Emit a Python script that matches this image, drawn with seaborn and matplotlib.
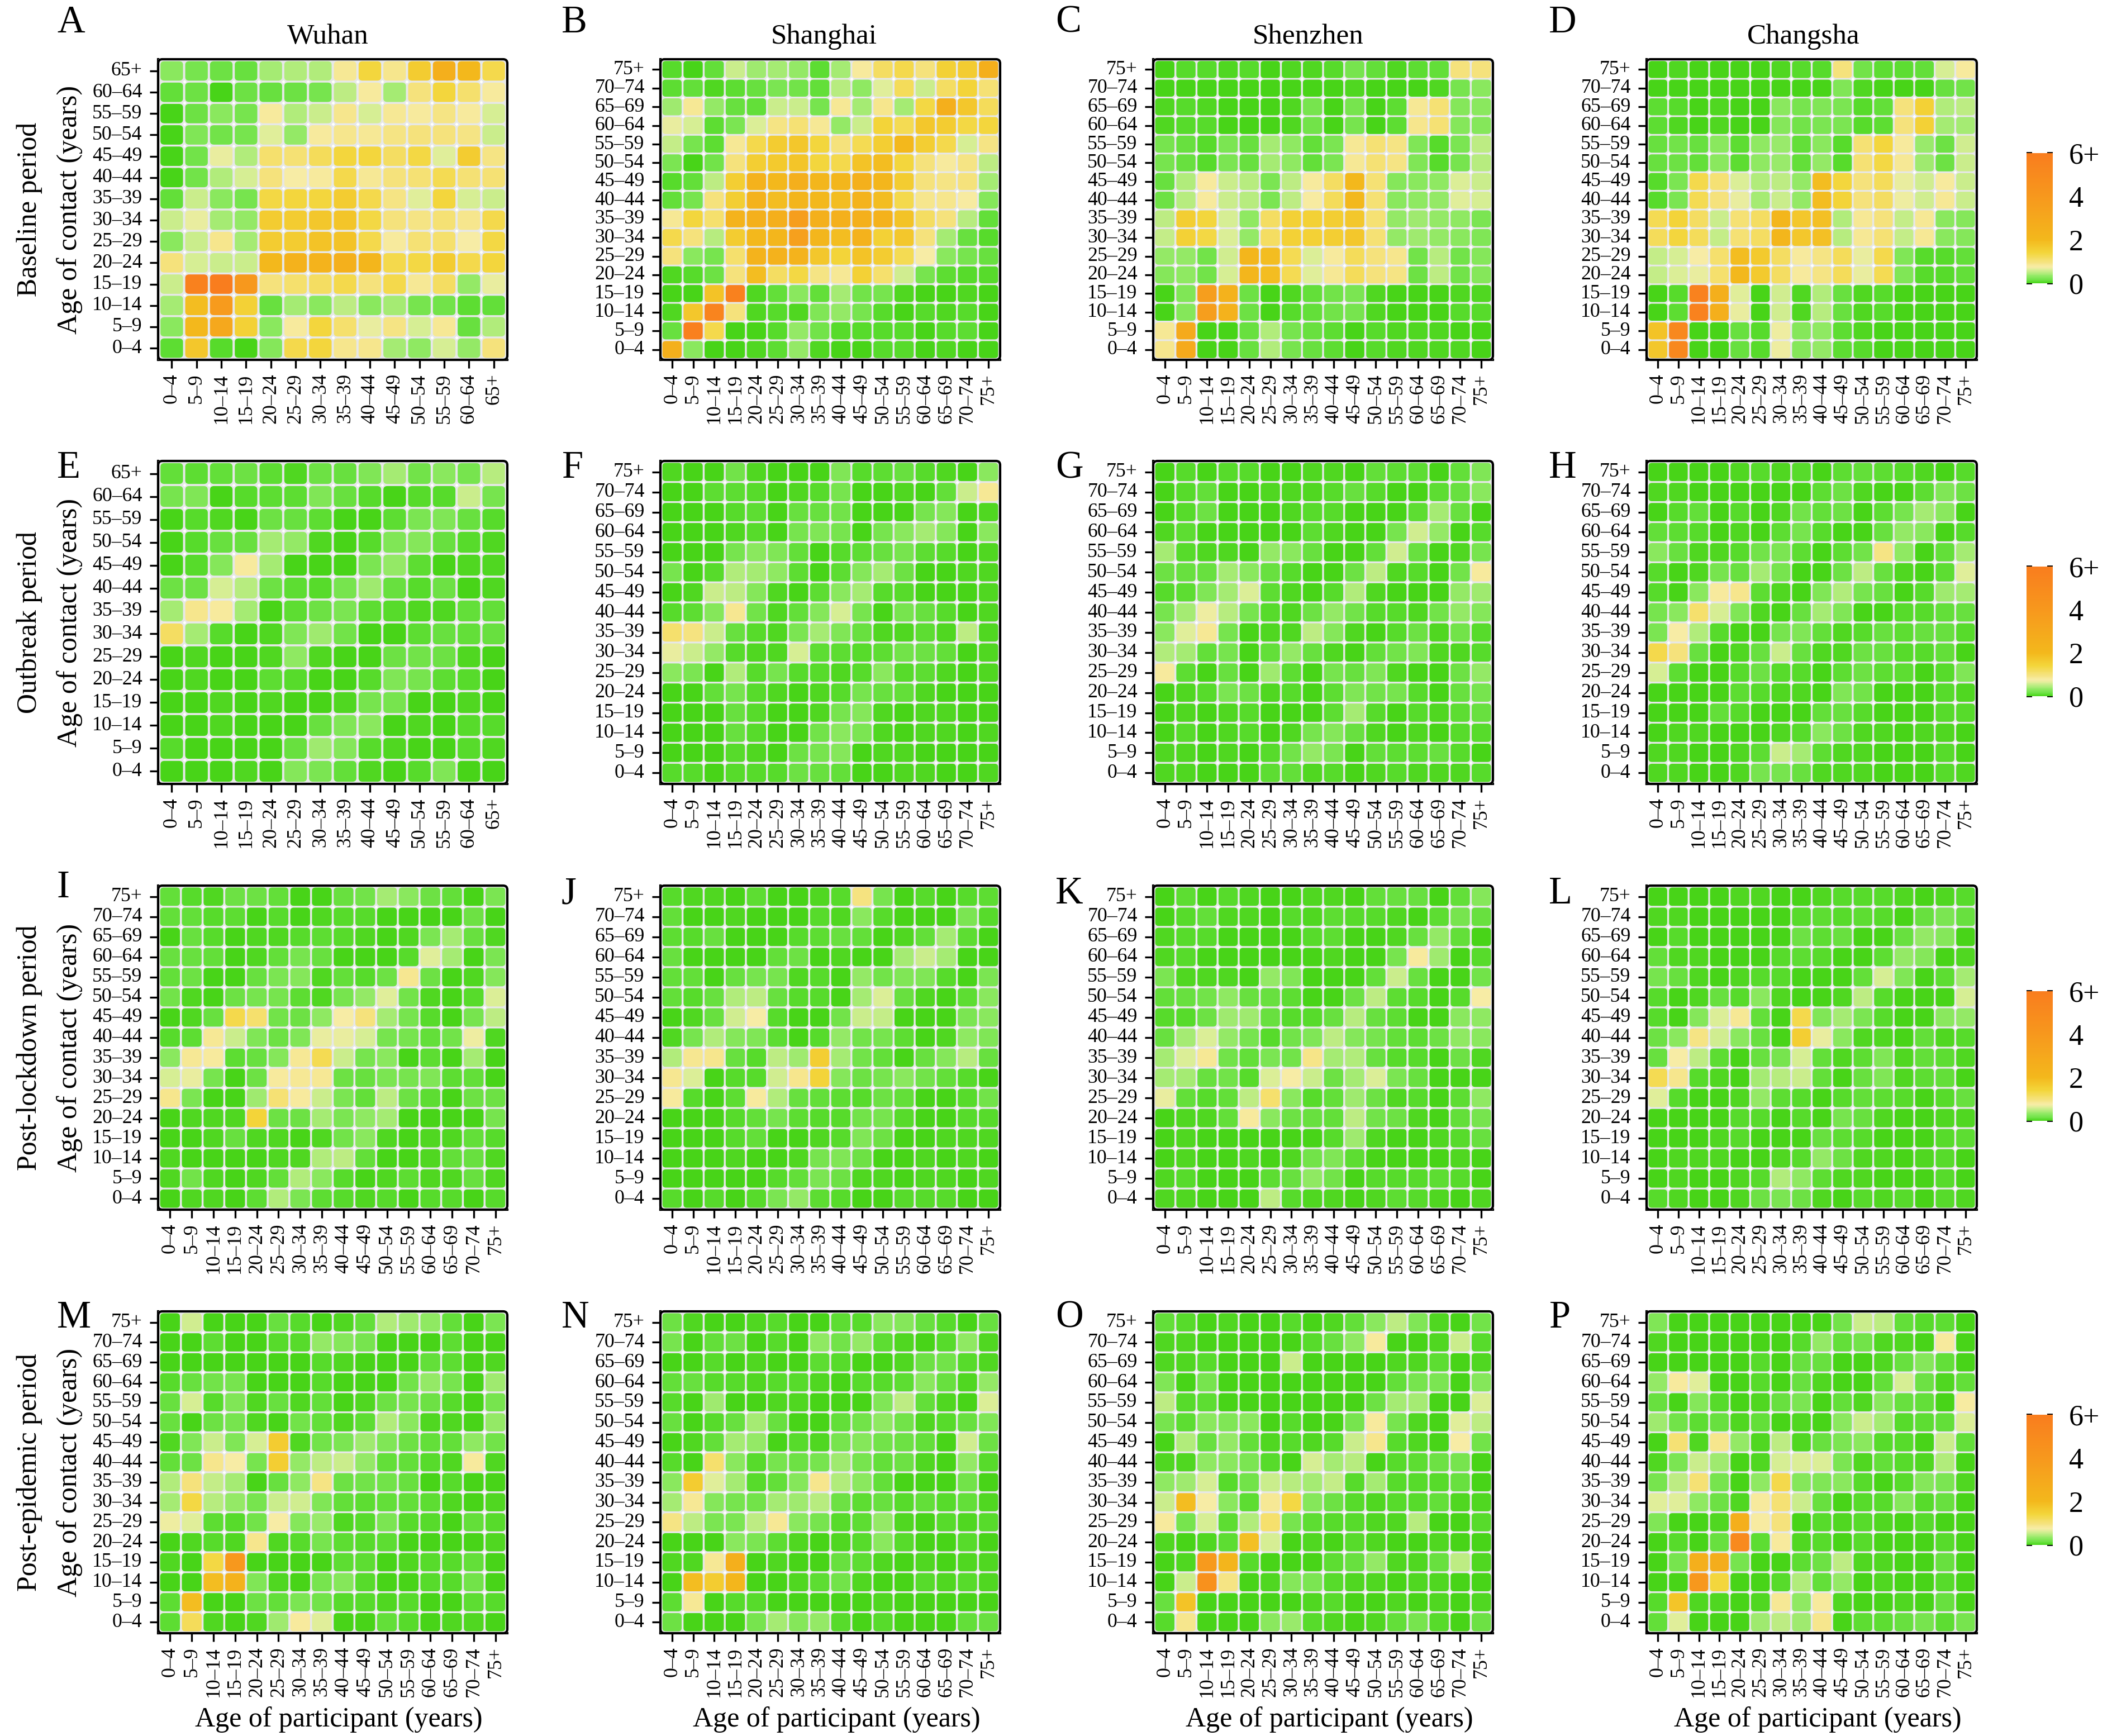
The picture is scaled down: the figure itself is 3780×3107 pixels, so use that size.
#!/usr/bin/env python
# Contact matrices by city and period, 4x4 grid of heatmaps
import matplotlib
matplotlib.use("Agg")
import matplotlib.pyplot as plt
import numpy as np
import pandas as pd
import seaborn as sns
from matplotlib.colors import LinearSegmentedColormap
from matplotlib.patches import FancyBboxPatch, PathPatch
from matplotlib.path import Path

AGES_14 = ["0–4", "5–9", "10–14", "15–19", "20–24", "25–29", "30–34", "35–39",
           "40–44", "45–49", "50–54", "55–59", "60–64", "65+"]
AGES_16 = AGES_14[:-1] + ["65–69", "70–74", "75+"]

cities = ["Wuhan", "Shanghai", "Shenzhen", "Changsha"]
periods = ["Baseline period", "Outbreak period", "Post-lockdown period", "Post-epidemic period"]
letters = list("ABCDEFGHIJKLMNOP")

# each matrix: top row is the oldest contact age, left column is the youngest participant
A = [[.3,.2,.15,.12,.4,.45,.45,.85,1.4,.9,1.6,2.6,2.0,1.3],
     [.1,.15,.0,.15,.12,.15,.2,.5,.8,.4,1.0,1.4,1.1,.8],
     [.0,.15,.3,.2,.8,.45,.55,.9,.6,.85,.8,.95,.8,.6],
     [.0,.25,.18,.2,.65,.35,.8,.9,.85,.95,1.0,1.0,.95,.55],
     [.0,.18,.7,.45,1.1,1.05,1.2,1.4,1.4,1.15,1.35,.65,1.6,.95],
     [.0,.18,.45,.6,1.0,.75,.8,1.3,.85,1.0,1.05,1.25,1.05,1.05],
     [.1,.55,.3,.2,1.35,1.4,1.4,1.6,1.3,.95,.65,1.4,.6,.55],
     [.55,.7,.4,.35,1.6,1.6,1.7,1.75,1.35,1.0,.95,1.05,.9,1.3],
     [.3,.55,.9,.4,1.6,1.6,1.8,1.8,1.3,.8,1.05,1.1,.75,1.35],
     [1.0,.6,.55,.55,2.0,2.4,2.3,2.5,2.1,1.3,1.35,1.6,1.3,1.4],
     [.55,5.7,6,4.0,1.0,1.1,1.15,1.3,1.0,1.3,.85,1.15,.35,.7],
     [.4,1.9,3.8,1.5,.12,.4,.3,.5,.3,.4,.2,.18,.08,.1],
     [.3,2.0,3.0,1.5,.3,.8,1.4,1.1,.7,.95,.6,.85,.12,.45],
     [.08,1.7,.05,.0,.28,1.3,1.4,.9,.9,.4,.32,.6,.33,1.0]]

B = [[.05,.02,.1,.55,.38,.42,.35,.08,.42,.8,1.15,1.3,1.0,1.5,1.6,2.6],
     [.08,.1,.03,.08,.12,.22,.18,.1,.48,.32,.65,1.2,.55,1.15,1.45,1.05],
     [.38,.85,.35,.12,.1,.55,.55,.2,.85,.42,.9,.42,1.35,2.6,1.7,1.2],
     [.7,.6,.08,.22,.62,.95,1.05,.85,.35,.55,1.45,1.25,1.7,1.6,1.35,1.4],
     [.52,.2,.08,.85,1.3,1.6,1.7,1.4,1.0,1.25,1.55,2.0,1.55,1.3,.6,.95],
     [.22,.0,.18,1.0,1.55,1.65,1.75,1.4,1.3,1.8,1.9,1.4,1.0,.8,.95,.5],
     [.06,.1,.5,1.55,2.4,2.0,2.6,2.1,2.1,2.5,2.1,1.6,1.0,.95,1.0,.42],
     [.1,.2,1.0,1.55,2.4,1.9,2.2,2.0,1.9,2.3,1.9,1.3,.9,.9,.78,.28],
     [.85,1.4,1.1,2.3,2.5,2.6,3.6,2.5,2.5,2.5,2.4,1.8,1.15,1.0,.48,.1],
     [1.3,1.0,.48,1.6,2.0,2.1,3.5,2.1,1.9,2.4,1.5,1.7,1.0,.42,.12,.06],
     [1.0,.3,.2,1.1,2.3,2.4,2.3,1.7,1.45,1.8,1.6,1.25,.75,.3,.2,.13],
     [.04,.07,.16,1.0,1.9,1.15,1.35,.95,.85,1.5,1.1,.58,.2,.08,.05,.07],
     [.02,.02,1.8,5.7,.04,.1,.3,.1,.42,.18,.2,.03,.01,.01,.04,.01],
     [.03,1.7,5.5,1.0,.04,.05,.03,.25,.35,.2,.07,.02,.05,.03,.05,.02],
     [.14,5.8,1.3,.01,.0,.05,.35,.18,.05,.05,.05,.05,.02,.06,.08,.01],
     [2.5,.3,.0,.0,.04,.08,.35,.04,.01,.01,.05,.06,.01,.04,.0,.01]]

C = [[.0,.05,.05,.03,.05,.0,.03,.04,.06,.2,.1,.03,.08,.1,1.0,1.0],
     [.0,.01,.01,.01,.01,.0,.01,.0,.01,.03,.02,.0,.0,.03,.2,.3],
     [.04,.05,.04,.0,.02,.0,.04,.2,.02,.2,.02,.08,.85,1.05,.28,.3],
     [.03,.06,.05,.0,.02,.0,.04,.18,.02,.2,.01,.08,.9,1.05,.28,.27],
     [.2,.12,.06,.22,.12,.4,.32,.1,.22,.85,1.05,.95,.25,.07,.22,.5],
     [.2,.12,.06,.22,.12,.42,.32,.1,.22,.85,1.05,.95,.25,.06,.2,.48],
     [.13,.45,.8,.55,.48,.22,.5,.8,1.15,2.0,1.05,.28,.3,.32,.62,.55],
     [.15,.48,.8,.55,.48,.22,.5,.78,1.2,2.0,1.05,.3,.32,.35,.65,.6],
     [.5,1.55,1.4,.6,.32,1.15,1.5,1.5,1.55,1.7,1.05,.35,.38,.35,.32,.22],
     [.52,1.5,1.35,.62,.35,1.15,1.5,1.5,1.55,1.7,1.05,.33,.38,.35,.3,.24],
     [.33,.33,.17,.58,2.1,1.9,1.25,.62,.82,1.2,1.0,.9,.17,.48,.17,.28],
     [.28,.32,.17,.6,2.1,1.9,1.25,.65,.85,1.2,1.0,.95,.16,.5,.18,.27],
     [.0,.25,3.6,2.4,.16,.02,.04,.11,.18,.22,.03,.0,.0,.0,.04,.03],
     [.0,.28,3.6,2.4,.16,.02,.05,.11,.18,.2,.04,.0,.02,.0,.05,.06],
     [.85,2.9,.0,.02,.13,.45,.2,.12,.08,.0,.05,.04,.03,.03,.02,.0],
     [.9,2.9,.0,.01,.13,.45,.2,.12,.08,.0,.05,.04,.03,.04,.03,.02]]

D = [[.02,.03,.01,.01,.02,.01,.03,.06,.06,1.0,.17,.08,.08,.1,.6,.8],
     [.0,.01,.0,.01,.01,.0,.0,.01,.01,.25,.03,.02,.0,.01,.12,.17],
     [.09,.05,.0,.04,.01,.01,.3,.2,.25,.22,.06,.1,1.0,1.5,.45,.5],
     [.08,.04,.0,.03,.0,.01,.28,.18,.23,.22,.05,.09,1.0,1.5,.4,.42],
     [.13,.17,.12,.3,.08,.32,.37,.1,.3,.06,1.05,1.4,.8,.37,.15,.58],
     [.14,.16,.1,.3,.08,.32,.37,.1,.33,.06,1.05,1.35,.85,.38,.15,.55],
     [.07,.22,1.3,1.05,.62,.45,.5,.33,1.9,1.4,1.0,1.2,.68,.58,.8,.55],
     [.07,.22,1.25,1.0,.68,.42,.55,.33,1.9,1.45,1.0,1.15,.72,.58,.85,.55],
     [1.25,1.45,1.15,.55,1.05,1.15,2.1,1.7,1.85,.45,.85,1.0,.52,.85,.3,.27],
     [1.2,1.4,1.2,.52,1.05,1.15,2.1,1.7,1.85,.48,.85,1.05,.52,.85,.3,.27],
     [.52,.6,.75,1.1,1.9,1.65,1.15,.8,.95,1.2,.68,1.3,.25,.05,.05,.1],
     [.52,.62,.68,1.1,2.0,1.65,1.15,.8,.95,1.2,.7,1.25,.25,.06,.05,.1],
     [.0,.07,5.6,2.6,.65,.0,.58,.03,.45,.12,.04,.05,.0,.01,.02,.01],
     [.0,.08,5.6,2.6,.7,.0,.58,.03,.48,.12,.04,.05,.0,.02,.02,.01],
     [1.8,5.2,.02,.01,.12,.06,.72,.28,.32,.08,.04,.01,.01,.0,.02,.01],
     [1.7,5.2,.02,.01,.12,.06,.72,.28,.33,.08,.05,.01,.01,.0,.02,.02]]

E = [[.1,.08,.1,.16,.08,.04,.15,.12,.25,.4,.18,.3,.2,.48],
     [.2,.25,.02,.05,.08,.08,.25,.12,.06,.02,.06,.07,.55,.2],
     [.0,.05,.03,.0,.15,.14,.08,.02,.01,.08,.22,.25,.12,.05],
     [.0,.05,.12,.14,.42,.35,.04,.01,.06,.25,.28,.12,.05,.03],
     [.01,.07,.28,.8,.4,.02,.0,.02,.22,.35,.08,.01,.04,.03],
     [.15,.15,.6,.48,.15,.08,.07,.2,.38,.14,.05,.15,.01,.04],
     [.4,.9,.8,.4,.01,.08,.15,.22,.08,.06,.03,.03,.1,.1],
     [1.15,.42,.05,.0,.03,.25,.38,.18,.02,.0,.08,.12,.1,.12],
     [.0,.04,.01,.0,.03,.32,.04,.01,.01,.15,.18,.15,.03,.0],
     [.0,.04,.02,.0,.08,.06,.01,.01,.05,.25,.2,.08,.05,.0],
     [.0,.01,.04,.01,.03,.01,.0,.03,.2,.2,.02,.01,.04,.01],
     [.0,.02,.03,.02,.01,.02,.12,.25,.3,.02,.03,.02,.06,.06],
     [.07,.01,.02,.01,.01,.13,.38,.28,.05,.04,.01,.01,.07,.04],
     [.02,.02,.02,.03,.02,.27,.22,.1,.04,.02,.05,.25,.02,.01]]

F = [[.03,.02,.0,.18,.03,.01,.0,.01,.25,.05,.09,.12,.05,.03,.02,.3],
     [.01,.01,.08,.08,.06,.02,.03,.06,.2,.02,.02,.03,.0,.1,.55,.85],
     [.01,.0,.0,.06,.08,.0,.12,.12,.18,.02,.0,.01,.2,.28,.01,.03],
     [.01,.0,.0,.04,.05,.0,.2,.25,.2,.0,.2,.3,.4,.28,.01,.3],
     [.02,.0,.0,.2,.3,.25,.1,.0,.06,.08,.14,.2,.08,.06,.01,.03],
     [.2,.0,.07,.45,.4,.32,.08,.0,.08,.28,.42,.15,.02,.0,.04,.03],
     [.01,.04,.55,.5,.28,.03,.01,.08,.3,.4,.07,.07,.01,.0,.02,.03],
     [.06,.08,.28,.88,.18,.04,.1,.28,.6,.2,.0,.2,.13,.07,.02,.03],
     [1.1,.98,.55,.13,.05,.03,.22,.42,.25,.12,.04,.03,.08,.03,.5,.03],
     [.68,.55,.35,.05,.03,.04,.6,.08,.08,.05,.08,.18,.15,.1,.01,.03],
     [.3,.22,.02,.45,.05,.2,.05,.05,.03,.05,.3,.06,.08,.03,.02,.03],
     [.01,.01,.1,.2,.06,.03,.01,.03,.05,.2,.12,.1,.03,.0,.01,.02],
     [.01,.01,.01,.12,.05,.01,.0,.03,.2,.28,.03,.02,.03,.03,.01,.02],
     [.01,.01,.01,.14,.05,.01,.02,.18,.3,.22,.03,.02,.03,.03,.01,.03],
     [.01,.01,.01,.05,.04,.01,.15,.2,.28,.0,.03,.04,.02,.02,.01,.02],
     [.07,.07,.01,.05,.05,.05,.15,.12,.1,.0,.01,.04,.03,.02,.0,.03]]

G = [[.02,.07,.0,.05,.05,.01,.01,.03,.03,.01,.1,.08,.08,.02,.1,.25],
     [.02,.07,.1,.0,.0,.03,.04,.03,.06,.12,.06,.02,.0,.08,.12,.3],
     [.02,.06,.15,.0,.01,.02,.04,.07,.06,.0,.02,.0,.08,.4,.12,.0],
     [.04,.09,.02,.0,.01,.01,.02,.08,.04,.0,.02,.2,.58,.35,.0,.06],
     [.42,.05,.03,.04,.02,.35,.3,.12,.0,.0,.1,.58,.12,.01,.03,.2],
     [.15,.12,.12,.4,.3,.13,.07,.01,.0,.15,.5,.04,.06,.0,.18,.8],
     [.05,.09,.25,.42,.62,.08,.04,.0,.07,.45,.04,.02,.01,.0,.35,.38],
     [.2,.4,.72,.48,.2,.06,.04,.15,.35,.17,.05,.06,.03,.18,.33,.28],
     [.3,.65,.85,.2,.0,.03,.04,.5,.28,.03,.02,.06,.15,.03,.18,.05],
     [.45,.42,.1,.2,.0,.1,.35,.12,.03,.02,.1,.18,.25,.03,.03,.06],
     [.8,.08,.02,.12,.02,.38,.09,.0,.2,.13,.25,.04,.01,.0,.15,.35],
     [.01,.03,.05,.22,.15,.04,.06,.0,.08,.25,.18,.2,.05,.0,.12,.2],
     [.01,.03,.01,.04,.05,.01,.0,.01,.09,.4,.05,.01,.05,.03,.09,.13],
     [.02,.05,.01,.03,.05,.01,.03,.2,.28,.12,.03,.02,.04,.01,.07,.06],
     [.03,.03,.01,.03,.0,.07,.18,.33,.23,.0,.1,.08,.08,.12,.07,.01],
     [.04,.04,.01,.01,.0,.08,.1,.03,.06,.0,.03,.05,.03,.03,.04,.05]]

H = [[.02,.01,.02,.02,.04,.07,.03,.05,.02,.08,.1,.08,.05,.03,.01,.07],
     [.03,.03,.0,.0,.0,.0,.01,.02,.08,.15,.04,.0,.0,.08,.25,.15],
     [.01,.07,.1,.01,.05,.0,.04,.18,.1,.16,.0,.08,.2,.4,.3,.02],
     [.1,.08,.07,.01,.03,.01,.08,.2,.05,.02,.0,.14,.35,.3,.01,.05],
     [.3,.12,.03,.03,.07,.18,.22,.09,.0,.08,.18,.95,.32,.0,.1,.4],
     [.05,.0,.04,.2,.13,.42,.2,.0,.0,.15,.5,.12,.03,.0,.08,.65],
     [.05,.01,.3,.8,.9,.08,.04,.0,.25,.45,.2,.12,.0,.05,.38,.42],
     [.2,.3,1.1,.6,.25,.03,.01,.13,.4,.25,.0,.0,.05,.06,.1,.12],
     [.22,.75,.45,.05,.0,.02,.2,.25,.1,.04,.05,.13,.08,.12,.12,.06],
     [1.3,1.0,.13,.02,.03,.13,.55,.14,.03,.03,.15,.12,.05,.07,.1,.02],
     [.6,.08,.0,.01,.07,.15,.05,.06,.0,.08,.15,.08,.08,.0,.06,.25],
     [.01,.02,.0,.02,.09,.07,.04,.04,.0,.25,.18,.02,.02,.0,.07,.03],
     [.0,.0,.0,.1,.06,.01,.01,.01,.1,.12,.05,.02,.0,.02,.05,.07],
     [.0,.03,.04,.02,.02,.01,.04,.05,.3,.15,.04,.03,.02,.03,.04,.0],
     [.03,.03,.01,.0,.03,.09,.55,.4,.08,.04,.03,.0,.02,.0,.05,.02],
     [.03,.03,.02,.01,.03,.2,.2,.14,.03,.03,.04,.02,.02,.0,.05,.03]]

I = [[.1,.06,.04,.15,.15,.1,.02,.02,.13,.18,.4,.3,.15,.1,.0,.22],
     [.1,.1,.06,.08,.0,.05,.0,.03,.06,.05,.0,.0,.0,.0,.15,.0],
     [.0,.12,.06,.02,.03,.03,.05,.08,.07,.03,.01,.04,.22,.4,.12,.04],
     [.12,.12,.1,.02,.04,.1,.2,.12,.0,.0,.0,.05,.65,.42,.0,.22],
     [.1,.15,.0,.02,.12,.22,.28,.03,.1,.05,.15,.88,.15,.01,.03,.28],
     [.18,.04,.02,.16,.2,.2,.08,.04,.2,.35,.65,.18,.03,.0,.05,.62],
     [.0,.03,.12,1.3,1.1,.17,.15,.32,.75,1.0,.4,.2,.05,.02,.2,.5],
     [.07,.08,.85,.55,.25,.15,.25,.7,.7,.6,.2,.2,.1,.18,.72,.03],
     [.3,.85,.82,.08,.14,.28,.85,1.25,.55,.2,.3,.0,.08,.0,.42,.02],
     [.6,.7,.2,.0,.15,.82,.85,.85,.15,.12,.22,.2,.25,.08,.1,.02],
     [.9,.22,.0,.0,.38,1.05,.8,.55,.22,.1,.5,.15,.08,.02,.15,.15],
     [.02,.03,.03,.03,1.45,.15,.15,.42,.22,.32,.42,.0,.0,.0,.02,.2],
     [.01,.02,.03,.12,.03,.03,.0,.03,.18,.3,.03,.01,.03,.04,.1,.06],
     [.03,.02,.02,.01,.01,.03,.03,.45,.5,.1,.02,.0,.03,.1,.13,.03],
     [.03,.17,.03,.02,.03,.1,.45,.3,.05,.02,.04,.08,.03,.03,.12,.03],
     [.02,.04,.04,.02,.08,.45,.22,.09,.05,.03,.06,.02,.06,.05,.02,.05]]

J = [[.05,.03,.04,.02,.08,.02,.0,.03,.05,.98,.2,.02,.05,.0,.05,.08],
     [.1,.02,.01,.04,.01,.0,.0,.05,.04,.3,.05,.0,.01,.01,.22,.05],
     [.09,.07,.12,.01,.0,.02,.07,.08,.12,.1,.0,.03,.1,.4,.08,.0],
     [.12,.02,.01,.02,.0,.1,.15,.02,.03,.0,.0,.42,.55,.42,.01,.01],
     [.1,.1,.01,.12,.2,.2,.03,.05,.01,.35,.18,.25,.25,.07,.0,.22],
     [.1,.05,.14,.45,.5,.12,.05,.05,.02,.42,.62,.13,.03,.0,.08,.3],
     [.0,.03,.13,.58,.75,.06,.01,.0,.18,.55,.52,.0,.0,.02,.22,.3],
     [.03,.2,.45,.28,.25,.09,.02,.07,.35,.18,.2,.08,.0,.03,.32,.25],
     [.45,.88,.9,.12,.07,.5,.38,1.55,.42,.18,.1,.01,.12,.28,.48,.14],
     [.88,.62,.02,.06,.07,.58,.9,1.45,.28,.15,.2,.3,.18,.1,.05,.0],
     [.82,.07,.02,.08,.82,.45,.12,.1,.09,.05,.15,.1,.0,.0,.05,.18],
     [.02,.01,.01,.07,.1,.2,.08,.07,.05,.18,.2,.07,.01,.0,.05,.05],
     [.01,.01,.01,.06,.1,.02,.0,.04,.06,.25,.15,.02,.01,.04,.03,.04],
     [.01,.01,.01,.04,.02,.02,.04,.2,.25,.15,.01,.01,.03,.02,.04,.02],
     [.01,.01,.02,.02,.02,.06,.1,.22,.15,.04,.03,.01,.04,.04,.02,.03],
     [.05,.02,.05,.02,.06,.22,.35,.08,.07,.0,.02,.05,.05,.07,.02,.02]]

K = [[.02,.08,.0,.05,.03,.01,.0,.03,.03,.0,.1,.12,.13,.02,.1,.28],
     [.02,.07,.1,.03,.03,.01,.05,.03,.08,.07,.07,.03,.0,.08,.2,.12],
     [.03,.05,.05,.01,.01,.02,.02,.06,.08,.0,.01,.04,.12,.35,.1,.0],
     [.04,.06,.02,.0,.01,.01,.01,.02,.03,.0,.02,.2,.8,.38,.0,.07],
     [.22,.04,.03,.03,.0,.35,.25,.01,.0,.0,.1,.55,.13,.01,.02,.17],
     [.1,.14,.18,.32,.13,.12,.09,.02,.01,.15,.5,.08,.05,.0,.05,.75],
     [.06,.07,.15,.38,.38,.12,.05,.05,.12,.48,.12,.08,.02,.0,.3,.32],
     [.12,.42,.62,.35,.2,.05,.18,.25,.5,.28,.2,.1,.08,.15,.32,.3],
     [.42,.62,.85,.17,.1,.22,.18,.92,.4,.45,.12,.05,.07,.02,.15,.04],
     [.42,.42,.13,.17,.05,.62,.75,.55,.15,.4,.62,.22,.12,.0,.02,.02],
     [.7,.1,.07,.1,.5,1.1,.3,.07,.1,.38,.15,.03,.06,.0,.08,.32],
     [.01,.03,.03,.1,.8,.3,.15,.12,.1,.5,.18,.15,.04,.0,.1,.2],
     [.02,.03,.01,.02,.01,.01,.0,.0,.07,.38,.03,.01,.02,.03,.07,.12],
     [.02,.04,.01,.02,.03,.01,.04,.18,.25,.08,.01,.01,.02,.01,.04,.02],
     [.03,.06,.0,.02,.01,.08,.14,.32,.18,.0,.07,.07,.05,.08,.05,.01],
     [.04,.04,.01,.01,.01,.5,.05,.03,.04,.0,.03,.08,.05,.04,.01,.03]]

L = [[.02,.0,.01,.01,.03,.03,.0,.01,.03,.06,.07,.07,.04,.0,.04,.06],
     [.03,.03,.0,.0,.0,.01,.02,.06,.08,.05,.08,.05,.0,.14,.22,.12],
     [.01,.06,.01,.0,.02,.0,.02,.16,.08,.14,.0,.02,.14,.35,.28,.0],
     [.1,.04,.04,.01,.02,.01,.05,.08,.05,.02,.0,.08,.35,.28,.02,.04],
     [.2,.12,.03,.02,.03,.07,.05,.01,.0,.02,.1,.6,.25,.0,.08,.4],
     [.06,.0,.03,.12,.06,.3,.03,.0,.01,.03,.5,.07,.02,.0,.02,.6],
     [.06,.01,.28,.62,.85,.1,.0,1.3,.25,.4,.22,.07,.0,.02,.3,.33],
     [.15,.3,.95,.58,.3,.12,.02,1.55,.7,.3,.04,.04,.01,.1,.04,.05],
     [.13,.75,.5,.08,.0,.13,.2,.6,.1,.03,.08,.25,.03,.1,.08,.03],
     [1.25,.9,.06,.03,.01,.42,.48,.55,.1,.0,.12,.25,.04,.08,.1,.02],
     [.65,.05,.01,.01,.04,.35,.08,.06,.0,.06,.1,.08,.06,.0,.05,.12],
     [.01,.02,.0,.02,.05,.05,.02,.05,.0,.2,.12,.04,.01,.0,.04,.03],
     [.0,.0,.0,.04,.05,.01,.01,.01,.12,.09,.05,.02,.0,.02,.05,.09],
     [.0,.03,.04,.03,.02,.01,.03,.05,.35,.15,.04,.03,.02,.03,.05,.0],
     [.02,.03,.01,.0,.03,.05,.45,.32,.09,.04,.03,.0,.02,.0,.05,.02],
     [.06,.03,.02,.01,.03,.15,.22,.16,.03,.02,.05,.03,.06,.01,.05,.03]]

M = [[.02,.58,.02,.02,.02,.12,.07,.02,.04,.1,.45,.38,.32,.1,.0,.22],
     [.02,.0,.08,.01,.02,.06,.05,.35,.28,.2,.0,.01,.0,.09,.0,.0],
     [.01,.0,.02,.01,.02,.02,.01,.07,.04,.01,.01,.01,.1,.08,.01,.03],
     [.07,.12,.18,.2,.01,.0,.01,.06,.01,.0,.0,.18,.33,.2,.0,.38],
     [.12,.6,.05,.25,.03,.14,.03,.1,.0,.03,.15,.2,.15,.06,.01,.2],
     [.13,.02,.15,.2,.04,.01,.18,.1,.03,.08,.45,.3,.03,.03,.0,.35],
     [.03,.25,.55,.25,.6,1.6,.03,.18,.22,.38,.24,.15,.1,.1,.32,.18],
     [.1,.15,.9,.75,.2,1.55,.35,.5,.55,.33,.1,.1,.05,.03,.8,.03],
     [.45,1.0,.52,.42,.01,.13,.32,.95,.15,.18,.18,.12,.02,.05,.02,.02],
     [.42,1.35,.48,.35,.2,.55,.58,.25,.1,.08,.1,.1,.08,.03,.01,.04],
     [.72,.65,.08,.05,.18,.75,.28,.37,.03,.05,.22,.06,.05,.0,.1,.07],
     [.02,.04,.05,.04,.9,.03,.05,.2,.08,.07,.08,.02,.0,.02,.01,.03],
     [.03,.02,1.35,4.0,.02,.02,.01,.02,.08,.08,.02,.03,.05,.05,.1,.01],
     [.02,.02,1.9,2.4,.25,.03,.0,.2,.28,.05,.02,.0,.05,.05,.17,.02],
     [.08,1.9,.02,.02,.15,.1,.22,.17,.05,.05,.04,.07,.01,.01,.08,.06],
     [.08,1.2,.03,.02,.04,.38,.8,.65,.02,.02,.1,.07,.02,.04,.03,.02]]

N = [[.15,.03,.01,.0,.04,.05,.0,.02,.08,.07,.3,.28,.12,.07,.0,.12],
     [.2,.02,.1,.15,.02,.05,.01,.32,.18,.35,.08,.03,.01,.06,.32,.04],
     [.02,.0,.05,.01,.03,.02,.0,.08,.06,.0,.01,.03,.15,.17,.05,.04],
     [.1,.12,.07,.07,.03,.06,.05,.03,.01,.05,.05,.08,.3,.12,.04,.33],
     [.07,.01,.38,.0,.01,.03,.04,.01,.02,.0,.25,.5,.1,.03,.0,.62],
     [.12,.01,.07,.12,.4,.12,.02,.02,.1,.17,.32,.17,.03,.05,.13,.25],
     [.0,.04,.1,.42,.35,.01,.06,.03,.2,.28,.17,.15,.1,.0,.58,.16],
     [.05,.0,1.1,.3,.05,.2,.15,.2,.38,.2,.1,.15,.04,.02,.33,.07],
     [.3,1.6,.65,.42,.05,.1,.26,.9,.45,.3,.1,.02,.02,.0,.18,.02],
     [.4,.85,.28,.2,.17,.42,.38,.48,.15,.08,.14,.05,.1,.07,.1,.03],
     [.95,.5,.22,.22,.5,.85,.3,.2,.06,.08,.35,.03,.01,.06,.03,.06],
     [.01,.01,.0,.3,.22,.08,.04,.02,.03,.07,.3,.05,.02,.01,.05,.02],
     [.03,.04,.85,2.6,.02,.03,.01,.01,.12,.08,.04,.02,.04,.02,.04,.03],
     [.02,1.9,1.6,2.1,.02,.01,.03,.08,.17,.03,.01,.01,.05,.04,.06,.03],
     [.08,.85,.0,.05,.05,.01,.02,.02,.01,.01,.03,.02,.02,.0,.02,.02],
     [.15,.02,.01,.01,.2,.42,.28,.33,.05,.01,.05,.02,.01,.0,.1,.12]]

O = [[.1,.06,.01,.03,.01,.02,.06,.01,.04,.1,.3,.5,.25,.03,.02,.18],
     [.03,.03,.01,.02,.01,.01,.01,.05,.12,.32,.8,.02,.02,.03,.55,.05],
     [.03,.03,.06,.01,.0,.01,.55,.02,.01,.02,.0,.03,.04,.08,.01,.03],
     [.25,.01,.2,.02,.0,.01,.0,.01,.0,.0,.0,.1,.2,.22,.02,.27],
     [.5,.05,.09,.0,.01,.01,.0,.01,.0,.01,.15,.42,.4,.0,.0,.62],
     [.2,.08,.3,.25,.3,.02,.07,.02,.01,.2,.82,.2,.03,.01,.65,.5],
     [.0,.45,.12,.35,.1,.03,.05,.03,.07,.55,.9,.05,.03,.01,.75,.18],
     [.04,.03,.32,.3,.22,.05,.02,.6,.42,.48,.01,.06,.08,.15,.2,.0],
     [.32,.38,.6,.05,.18,.55,.48,.42,.52,.06,.42,.05,.05,.05,.14,.0],
     [.55,1.9,.75,.3,.08,.85,1.35,.28,.15,.05,.03,.05,.05,.1,.03,.03],
     [.8,.2,.6,.08,.45,1.1,.2,.08,.07,.05,.04,.03,.48,.01,.01,.05],
     [.03,.02,.04,.08,1.85,.6,.01,.03,.01,.05,.04,.02,.01,.03,.02,.01],
     [.02,.03,3.9,2.2,.05,.01,.02,.02,.08,.12,.35,.04,.03,.12,.5,.03],
     [.0,.55,4.5,.95,.0,.03,.27,.22,.07,.03,.03,.02,.04,.03,.02,.0],
     [.14,1.8,.02,.01,.01,.01,.02,.04,.05,.01,.02,.03,.02,.03,.01,.04],
     [.05,.9,.01,.02,.02,.3,.37,.05,.04,.01,.03,.1,.2,.05,.01,.15]]

P = [[.25,.01,.0,.02,.01,.02,.0,.02,.02,.18,.55,.5,.1,.05,.08,.01],
     [.03,.01,.01,.01,.01,.02,.01,.07,.33,.1,.17,.03,.03,.0,.8,.02],
     [.01,.01,.01,.02,.01,.06,.01,.14,.12,.02,.01,.03,.14,.28,.1,.02],
     [.33,.82,.65,.0,.0,.05,.0,.12,.04,.01,.01,.1,.6,.15,.03,.1],
     [.12,.01,.28,.05,.0,.04,.13,.22,.01,.1,.04,.3,.13,.1,.0,.78],
     [.38,.18,.08,.12,.03,.1,.02,.03,.01,.3,.55,.4,.05,.08,.1,.62],
     [.02,1.05,.03,.9,.35,.03,.5,.03,.12,.22,.3,.05,.05,.0,.55,.1],
     [.03,.22,.55,.38,.0,.04,.6,.62,.62,.22,.03,.1,.05,.03,.45,.0],
     [.2,.5,1.05,.2,.01,.32,1.3,.28,.25,.3,.05,.01,.05,.28,.22,.03],
     [.65,.65,.32,.15,.03,.8,1.05,.55,.12,.02,.05,.06,.28,.05,.12,.01],
     [.25,.01,.02,.04,2.6,.78,1.0,.0,.05,.03,.05,.04,.01,.06,.02,.01],
     [.01,.05,.01,.12,5.0,.08,.82,.04,.05,.02,.05,.02,.02,.0,.05,.02],
     [.02,.2,2.6,2.7,.2,.0,.0,.08,.15,.5,.03,.04,.02,.0,.12,.01],
     [.0,.01,4.0,1.4,.0,.0,.05,.45,.1,.35,.02,.03,.0,.01,.07,.02],
     [.05,1.75,.03,.04,.01,.03,.85,.32,.8,.03,.01,.02,.03,.0,.12,.01],
     [.1,.65,.01,.01,.0,.38,.5,.38,.9,.0,.09,.08,.12,.2,.08,.2]]

matrices = [A, B, C, D, E, F, G, H, I, J, K, L, M, N, O, P]

# layout in target pixels
W, H_PX = 3780, 3107
col_x = [(283, 908), (1182, 1790), (2064, 2672), (2947, 3538)]
row_y = [(106, 644), (825, 1403), (1585, 2165), (2347, 2923)]
cbar_x = (3627, 3674)
cbar_y = [(274, 507), (1014, 1246), (1774, 2006), (2532, 2765)]
letter_x = [102, 1005, 1889, 2772]
letter_base = [58, 855, 1617, 2376]
title_x = [587, 1475, 2341, 3228]
GRID = "#e7e8e8"

sns.set_theme(style="white")
plt.rcParams["font.family"] = ["Liberation Serif", "DejaVu Serif"]
plt.rcParams["text.color"] = "black"

cmap = LinearSegmentedColormap.from_list("contacts", [
    (0 / 6, "#48d418"), (.05 / 6, "#58db2c"), (.1 / 6, "#64df3b"), (.2 / 6, "#79e550"),
    (.35 / 6, "#98ea6a"), (.6 / 6, "#d9ee96"),
    (.75 / 6, "#f7eca6"), (1.0 / 6, "#f5e27a"), (1.4 / 6, "#f3d63b"),
    (2 / 6, "#f3b81c"), (4 / 6, "#f7981d"), (6 / 6, "#f97d1e")])


def px_axes(fig, x, y):
    return fig.add_axes([x[0] / W, 1 - y[1] / H_PX, (x[1] - x[0]) / W, (y[1] - y[0]) / H_PX])


def grid_mask(n, pad, inset=0.045, r=0.16):
    """Patch covering everything but a rounded box for each cell"""
    lo, hi = -pad, n + pad
    verts = [(lo, lo), (hi, lo), (hi, hi), (lo, hi), (lo, lo)]
    codes = [Path.MOVETO, Path.LINETO, Path.LINETO, Path.LINETO, Path.CLOSEPOLY]
    for i in range(n):
        for j in range(n):
            x0, x1, y0, y1 = j + inset, j + 1 - inset, i + inset, i + 1 - inset
            verts += [(x0 + r, y0), (x0, y0), (x0, y0 + r), (x0, y1 - r), (x0, y1), (x0 + r, y1),
                      (x1 - r, y1), (x1, y1), (x1, y1 - r), (x1, y0 + r), (x1, y0), (x1 - r, y0),
                      (x0 + r, y0)]
            codes += [Path.MOVETO, Path.CURVE3, Path.CURVE3, Path.LINETO, Path.CURVE3, Path.CURVE3,
                      Path.LINETO, Path.CURVE3, Path.CURVE3, Path.LINETO, Path.CURVE3, Path.CURVE3,
                      Path.CLOSEPOLY]
    return PathPatch(Path(verts, codes), facecolor=GRID, edgecolor="none", zorder=3)


def draw_panel(ax, values):
    n = len(values)
    ages = AGES_14 if n == 14 else AGES_16
    df = pd.DataFrame(values, index=ages[::-1], columns=ages)
    sns.heatmap(df, ax=ax, cmap=cmap, vmin=0, vmax=6, cbar=False, square=False,
                xticklabels=True, yticklabels=True)
    pad = 0.05
    ax.set_xlim(-pad, n + pad)
    ax.set_ylim(n + pad, -pad)
    ax.set_facecolor(GRID)
    ax.add_patch(grid_mask(n, pad))
    # little white sparkle where the grid lines cross
    cross = np.arange(1, n)
    gx, gy = np.meshgrid(cross, cross)
    ax.scatter(gx.ravel(), gy.ravel(), s=1.2, marker="D", color="white", linewidths=0, zorder=4)
    ax.set_xlabel("")
    ax.set_ylabel("")
    ax.tick_params(axis="both", bottom=True, left=True, length=3.6, width=0.8, color="black",
                   labelsize=8.6, labelcolor="black")
    ax.tick_params(axis="x", pad=2.2, labelrotation=90)
    ax.tick_params(axis="y", pad=3.2, labelrotation=0)
    for side in ["left", "bottom"]:
        ax.spines[side].set_visible(True)
        ax.spines[side].set_color("black")
        ax.spines[side].set_linewidth(1.0)
    for side in ["top", "right"]:
        ax.spines[side].set_visible(False)
    box_w, box_h = ax.get_position().width * W, ax.get_position().height * H_PX
    ax.add_patch(FancyBboxPatch((0, 0), 1, 1, boxstyle="round,pad=0,rounding_size=0.012",
                                mutation_aspect=box_w / box_h, transform=ax.transAxes,
                                fill=False, edgecolor="black", linewidth=1.0, clip_on=False, zorder=6))


def draw_cbar(fig, y, mesh):
    cax = px_axes(fig, cbar_x, y)
    cb = fig.colorbar(mesh, cax=cax)
    cb.set_ticks([0, 2, 4, 6])
    cb.set_ticklabels(["0", "2", "4", "6+"])
    cb.outline.set_visible(False)
    cax.tick_params(axis="y", direction="in", left=True, right=True, length=2.4, width=0.9,
                    color="black", pad=7, labelsize=12.5, labelcolor="black")
    for t in cax.get_yticklines():
        t.set_clip_on(False)
        t.set_zorder(5)


fig = plt.figure(figsize=(W / 300, H_PX / 300), dpi=300, facecolor="white")

for r, y in enumerate(row_y):
    for c, x in enumerate(col_x):
        idx = r * 4 + c
        ax = px_axes(fig, x, y)
        draw_panel(ax, matrices[idx])
        base = letter_base[r] - (11 if letters[idx] == "I" else 0)
        fig.text(letter_x[c] / W, 1 - base / H_PX, letters[idx], fontsize=16.5, ha="left", va="baseline")
        if r == 3:
            fig.text((sum(x) / 2 + 11) / W, 1 - 3078 / H_PX, "Age of participant (years)",
                     fontsize=12, ha="center", va="center")
    draw_cbar(fig, cbar_y[r], ax.collections[0])
    yc = 1 - (sum(y) / 2) / H_PX
    fig.text(53 / W, yc, periods[r], fontsize=12, rotation=90, ha="center", va="center")
    fig.text(125 / W, yc, "Age of contact (years)", fontsize=12, rotation=90, ha="center", va="center")

for c, city in enumerate(cities):
    fig.text(title_x[c] / W, 1 - 66 / H_PX, city, fontsize=12.3, ha="center", va="center")

fig.savefig("out.png", dpi=300)
plt.close(fig)
